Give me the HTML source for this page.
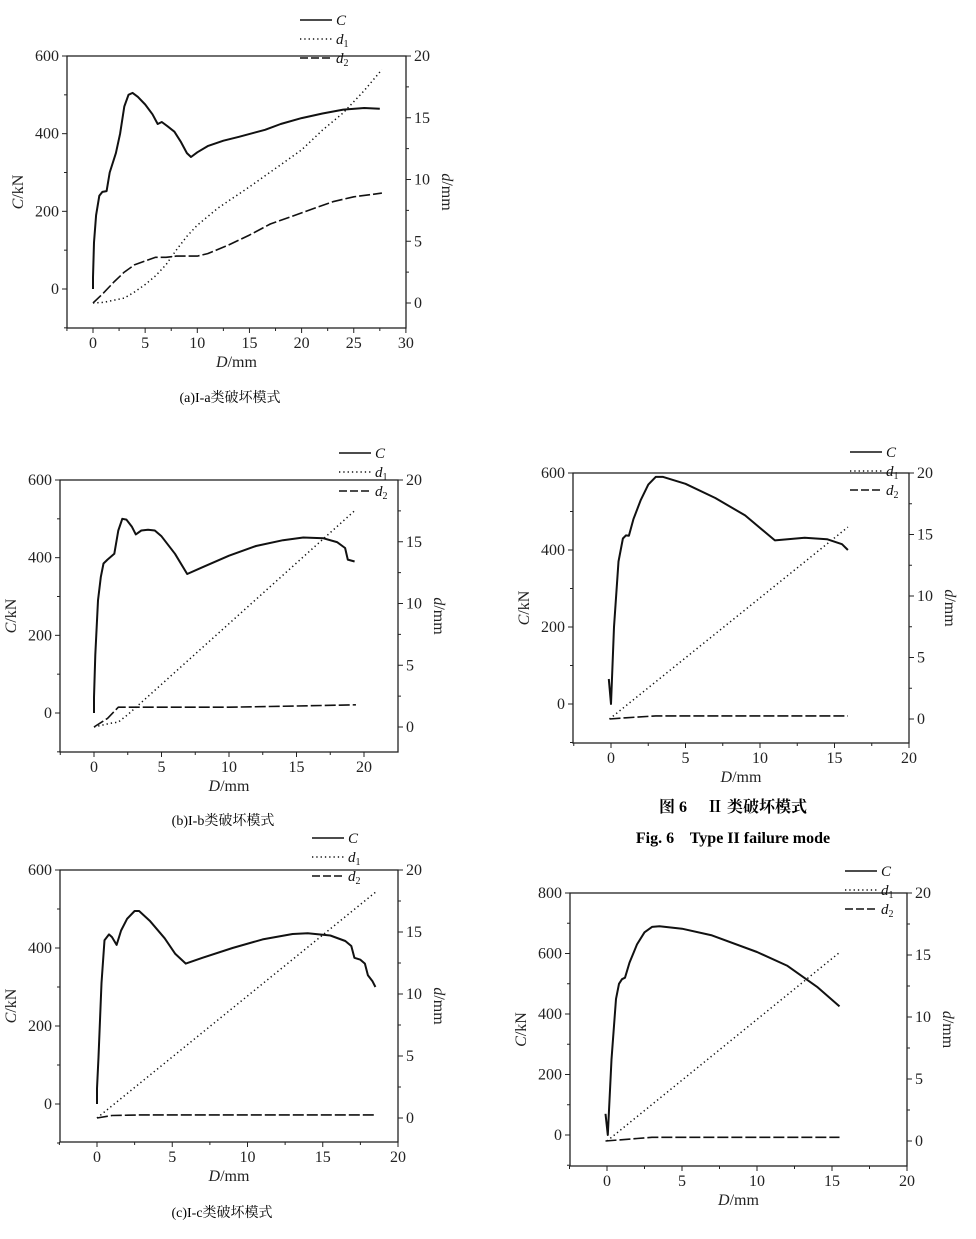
<!DOCTYPE html>
<html><head><meta charset="utf-8">
<style>
html,body{margin:0;padding:0;background:#fff;}
svg{display:block;font-family:"Liberation Serif","Noto Serif CJK SC",serif;}
</style></head>
<body>
<svg id="fig" width="976" height="1239" viewBox="0 0 976 1239" xmlns="http://www.w3.org/2000/svg">
<text x="230" y="402" font-size="14" text-anchor="middle">(a)I-a类破坏模式</text>
<text x="223" y="825" font-size="14" text-anchor="middle">(b)I-b类破坏模式</text>
<text x="222" y="1217" font-size="14" text-anchor="middle">(c)I-c类破坏模式</text>
<text x="733" y="812" font-size="16" font-weight="bold" text-anchor="middle" font-family="'Liberation Serif','Noto Serif CJK SC',serif">图 6　 Ⅱ 类破坏模式</text>
<text x="733" y="843" font-size="16" font-weight="bold" text-anchor="middle" xml:space="preserve">Fig. 6    Type II failure mode</text>
</svg>
<script>
// ---- Chart a data ----
const aCD=[0,0,0.1,0.3,0.6,0.9,1.3,1.6,2.2,2.6,3.0,3.4,3.8,4.3,5.0,5.7,6.2,6.6,7.2,7.8,8.4,9.0,9.4,10,11,12.5,14,16.5,18,20,22,24,26,27.5];
const aC=[0,30,120,190,240,250,252,300,350,400,470,500,505,495,475,450,425,430,418,405,380,350,340,352,368,382,392,410,425,440,452,462,466,464];
const aD1x=[0,1,3,4,5,6,7,8,9,10,12,15,17,20,22,24,26,27.7];
const aD1=[0,0.05,0.4,0.9,1.5,2.2,3.1,4.3,5.4,6.3,7.7,9.4,10.6,12.4,14,15.4,17.2,18.9];
const aD2x=[0,1,2,3,4,5,6,7,8,10,11,13,15,17,19,21,23,25,27.7];
const aD2=[0,0.8,1.7,2.5,3.1,3.4,3.7,3.7,3.8,3.8,4.0,4.7,5.5,6.4,7.0,7.6,8.2,8.6,8.9];
// ---- Chart b data ----
const bCD=[0,0,0.1,0.3,0.5,0.7,1.0,1.5,1.8,2.1,2.4,2.8,3.1,3.5,4,4.5,5,6,6.9,8,10,12,14,15.5,17,18,18.6,18.8,19.3];
const bC=[0,40,150,290,350,385,395,410,470,500,498,480,460,470,472,470,455,410,358,375,405,430,445,452,450,440,425,395,390];
const bD1x=[0,1.2,1.8,2.5,19.4];
const bD1=[0,0.3,0.4,1.0,17.6];
const bD2x=[0,1,1.8,5,10,15,19.4];
const bD2=[0,0.7,1.6,1.6,1.6,1.7,1.8];
// ---- Chart II data ----
const eCD=[-0.15,0,0.2,0.5,0.8,1.0,1.2,1.5,2,2.5,3,3.5,5,7,9,11,13,14.5,15.5,15.9];
const eC=[65,0,200,370,430,438,437,480,530,570,590,590,572,535,490,425,432,428,415,400];
const eD1x=[-0.1,15.9];
const eD1=[0,15.6];
const eD2x=[-0.1,1,3,15.9];
const eD2=[0,0.1,0.25,0.25];
// ---- Chart c data ----
const cCD=[0,0,0.1,0.3,0.5,0.8,1.0,1.3,1.6,2.0,2.5,2.8,3.5,4.5,5.2,5.9,7,9,11,13,14,15.5,16.5,16.9,17.1,17.5,17.8,18.0,18.3,18.5];
const cC=[0,40,120,310,420,435,428,408,445,475,495,495,470,425,385,360,375,400,422,436,438,432,418,405,375,370,360,330,315,300];
const cD1x=[0,18.5];
const cD1=[0,18.2];
const cD2x=[0,1,3,18.5];
const cD2=[0,0.2,0.25,0.25];
// ---- Chart last data ----
const fCD=[-0.1,0.05,0.3,0.6,0.8,1.0,1.2,1.5,2,2.5,3,3.5,5,7,10,12,14,15.5];
const fC=[70,0,250,450,500,515,520,570,630,670,688,690,682,660,605,560,490,425];
const fD1x=[0,15.5];
const fD1=[0,15.2];
const fD2x=[-0.1,2,3,15.5];
const fD2=[0,0.2,0.3,0.3];
const xTicksA=[0,5,10,15,20,25,30];
const xTicks20=[0,5,10,15,20];
const cTicks600=[0,200,400,600];
const cTicks800=[0,200,400,600,800];
const dTicks=[0,5,10,15,20];

const NS='http://www.w3.org/2000/svg';
const svg=document.getElementById('fig');
function mk(tag,attrs,parent){const e=document.createElementNS(NS,tag);for(const k in attrs)e.setAttribute(k,attrs[k]);(parent||svg).appendChild(e);return e;}

function chart(cfg){
  const g=mk('g',{});
  
  
  const L=cfg.L,R=cfg.R,T=cfg.T,B=cfg.B;
  const sx=v=>cfg.x0+(v)*cfg.kx;
  const syl=v=>cfg.yl0-v*(cfg.yl0-T)/cfg.ylmax;
  const syr=v=>cfg.yr0-v*(cfg.yr0-T)/20;
  const frame=mk('rect',{x:L,y:T,width:R-L,height:B-T,fill:'none',stroke:'#222','stroke-width':1.3},g);
  
  
  cfg.xt.forEach((v,i)=>{
    mk('line',{x1:sx(v),x2:sx(v),y1:B,y2:B+5,stroke:'#222'},g);
    if(i<cfg.xt.length-1) mk('line',{x1:sx(v+cfg.xt[1]/2),x2:sx(v+cfg.xt[1]/2),y1:B,y2:B+3,stroke:'#222'},g);
    const t=mk('text',{x:sx(v),y:B+20,'font-size':16,'text-anchor':'middle',fill:'#222'},g);
    
    
    t.textContent=v;
  });
  mk('line',{x1:sx(-2.5),x2:sx(-2.5),y1:B,y2:B+3,stroke:'#222'},g);
  const step=cfg.lt[1];
  cfg.lt.forEach((v,i)=>{
    mk('line',{x1:L-5,x2:L,y1:syl(v),y2:syl(v),stroke:'#222'},g);
    mk('line',{x1:L-3,x2:L,y1:syl(v-step/2),y2:syl(v-step/2),stroke:'#222'},g);
    const t=mk('text',{x:L-8,y:syl(v)+5,'font-size':16,'text-anchor':'end',fill:'#222'},g);
    
    
    t.textContent=v;
  });
  dTicks.forEach((v,i)=>{
    mk('line',{x1:R,x2:R+5,y1:syr(v),y2:syr(v),stroke:'#222'},g);
    if(i<dTicks.length-1) mk('line',{x1:R,x2:R+3,y1:syr(v+2.5),y2:syr(v+2.5),stroke:'#222'},g);
    const t=mk('text',{x:R+8,y:syr(v)+5,'font-size':16,'text-anchor':'start',fill:'#222'},g);
    
    
    t.textContent=v;
  });
  const xl=mk('text',{x:(L+R)/2,y:B+39,'font-size':16,'text-anchor':'middle',fill:'#222'},g);
  
  
  xl.innerHTML='<tspan font-style="italic">D</tspan>/mm';
  const cy=(T+B)/2;
  const yl=mk('text',{x:L-44,y:cy,'font-size':16,'text-anchor':'middle',fill:'#222',transform:`rotate(-90 ${L-44} ${cy})`},g);
  
  
  yl.innerHTML='<tspan font-style="italic">C</tspan>/kN';
  const rx=R+36;
  const yr=mk('text',{x:rx,y:cy,'font-size':16,'text-anchor':'middle',fill:'#222',transform:`rotate(90 ${rx} ${cy})`},g);
  
  
  yr.innerHTML='<tspan font-style="italic">d</tspan>/mm';
  function line(xs,ys,sy,dash,w,name){
    const p=xs.map((x,i)=>sx(x).toFixed(1)+','+sy(ys[i]).toFixed(1)).join(' ');
    const e=mk('polyline',{points:p,fill:'none',stroke:'#111','stroke-width':w,'stroke-dasharray':dash,'stroke-linejoin':'round'},g);
    
    
  }
  line(cfg.cx,cfg.c,syl,'none',2,'series-c');
  line(cfg.d1x,cfg.d1,syr,'1.3,3','1.5','series-d1');
  line(cfg.d2x,cfg.d2,syr,'11,3','1.6','series-d2');
  const lg=[['C','none'],['d','1.3,3','1'],['d','8,3','2']];
  const lgG=mk('g',{},g);
  
  
  lg.forEach((it,i)=>{
    const y=cfg.lgy+i*19;
    mk('line',{x1:cfg.lgx,x2:cfg.lgx+32,y1:y,y2:y,stroke:'#111','stroke-width':1.6,'stroke-dasharray':it[1]},lgG);
    const t=mk('text',{x:cfg.lgx+36,y:y+5,'font-size':15,fill:'#111'},lgG);
    
    
    t.innerHTML='<tspan font-style="italic">'+it[0]+'</tspan>'+(it[2]?'<tspan font-size="10" dy="3">'+it[2]+'</tspan>':'');
  });
}
chart({name:'chart-a',L:67,R:406,T:56,B:328,x0:93,kx:10.43,yl0:289,ylmax:600,yr0:303,xt:xTicksA,lt:cTicks600,cx:aCD,c:aC,d1x:aD1x,d1:aD1,d2x:aD2x,d2:aD2,lgx:300,lgy:20});
chart({name:'chart-b',L:60,R:398,T:480,B:752,x0:94,kx:13.5,yl0:713,ylmax:600,yr0:727,xt:xTicks20,lt:cTicks600,cx:bCD,c:bC,d1x:bD1x,d1:bD1,d2x:bD2x,d2:bD2,lgx:339,lgy:453});
chart({name:'chart-type2',L:573,R:909,T:473,B:743,x0:611,kx:14.9,yl0:704,ylmax:600,yr0:719,xt:xTicks20,lt:cTicks600,cx:eCD,c:eC,d1x:eD1x,d1:eD1,d2x:eD2x,d2:eD2,lgx:850,lgy:452});
chart({name:'chart-c',L:60,R:398,T:870,B:1142,x0:97,kx:15.05,yl0:1104,ylmax:600,yr0:1118,xt:xTicks20,lt:cTicks600,cx:cCD,c:cC,d1x:cD1x,d1:cD1,d2x:cD2x,d2:cD2,lgx:312,lgy:838});
chart({name:'chart-type3',L:570,R:907,T:893,B:1166,x0:607,kx:15,yl0:1135,ylmax:800,yr0:1141,xt:xTicks20,lt:cTicks800,cx:fCD,c:fC,d1x:fD1x,d1:fD1,d2x:fD2x,d2:fD2,lgx:845,lgy:871});
</script>
</body></html>
